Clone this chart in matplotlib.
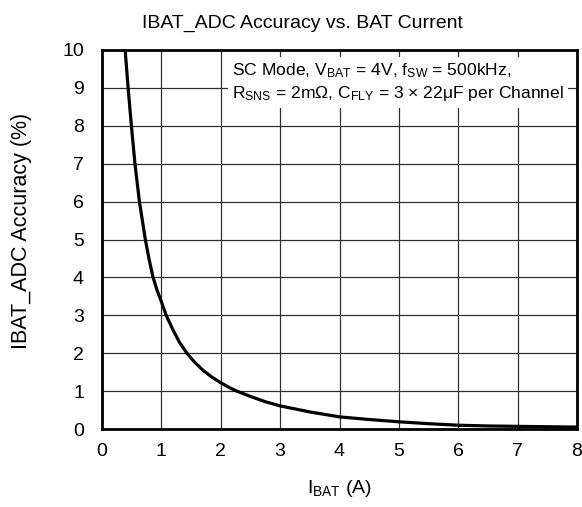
import matplotlib
matplotlib.use("Agg")
import matplotlib.pyplot as plt

plt.rcParams['font.family'] = ['Liberation Sans', 'DejaVu Sans']
plt.rcParams['mathtext.fontset'] = 'custom'
plt.rcParams['mathtext.rm'] = 'Liberation Sans'
plt.rcParams['mathtext.it'] = 'Liberation Sans'

i_bat = [0.39, 0.44, 0.495, 0.555, 0.63, 0.68, 0.73, 0.79, 0.86,
         0.93, 1.00, 1.08, 1.20, 1.30, 1.43, 1.55, 1.70, 1.85, 2.00, 2.15, 2.27,
         2.50, 2.75, 3.00, 3.50, 4.00, 4.50, 5.00, 5.50, 6.00, 6.50, 7.00,
         7.50, 8.00]
accuracy = [10.0, 9.0, 8.0, 7.0, 6.0, 5.5, 5.0, 4.5, 4.0,
            3.65, 3.36, 3.0, 2.6, 2.3, 2.0, 1.78, 1.55, 1.37, 1.22, 1.09, 1.0,
            0.86, 0.72, 0.61, 0.45, 0.32, 0.25, 0.19, 0.14, 0.10, 0.08, 0.07,
            0.06, 0.05]
x_ticks = [0, 1, 2, 3, 4, 5, 6, 7, 8]
y_ticks = [0, 1, 2, 3, 4, 5, 6, 7, 8, 9, 10]

fig = plt.figure(figsize=(5.82, 5.07), dpi=100)
ax = fig.add_axes([102/582, 78/507, 475/582, 379/507])
ax.plot(i_bat, accuracy, color='black', lw=2.3, solid_capstyle='butt',
        solid_joinstyle='round')
ax.set_xlim(0, 8)
ax.set_ylim(0, 10)
ax.set_xticks(x_ticks)
ax.set_yticks(y_ticks)
ax.grid(True, color='#303030', lw=0.9)
ax.set_axisbelow(True)
for s in ax.spines.values():
    s.set_linewidth(2)
ax.tick_params(length=0, labelsize=14)
ax.tick_params(axis='x', pad=10)
ax.tick_params(axis='y', pad=13)
ax.set_xlabel(r'I$_\mathregular{BAT}$ (A)', fontsize=14, va='top')
ax.xaxis.set_label_coords(0.5, -0.128)
fig.text(22/582, 1 - 231/507, 'IBAT_ADC Accuracy (%)', rotation=90,
         ha='center', va='center', fontsize=15.5)
fig.text(302/582, 1 - 23/507, 'IBAT_ADC Accuracy vs. BAT Current',
         ha='center', va='center', fontsize=14)

ann = (r'SC Mode, V$_\mathregular{BAT}$ = 4V, f$_\mathregular{SW}$ = 500kHz,' + '\n' +
       r'R$_\mathregular{SNS}$ = 2m$\Omega$, C$_\mathregular{FLY}$ = 3 × 22μF per Channel')
ax.text(130/475, 0.97, ann, transform=ax.transAxes, ha='left', va='top', fontsize=12.6,
        linespacing=1.3,
        bbox=dict(boxstyle='square,pad=0.25', fc='white', ec='none'))

fig.savefig('out.png', dpi=100)
